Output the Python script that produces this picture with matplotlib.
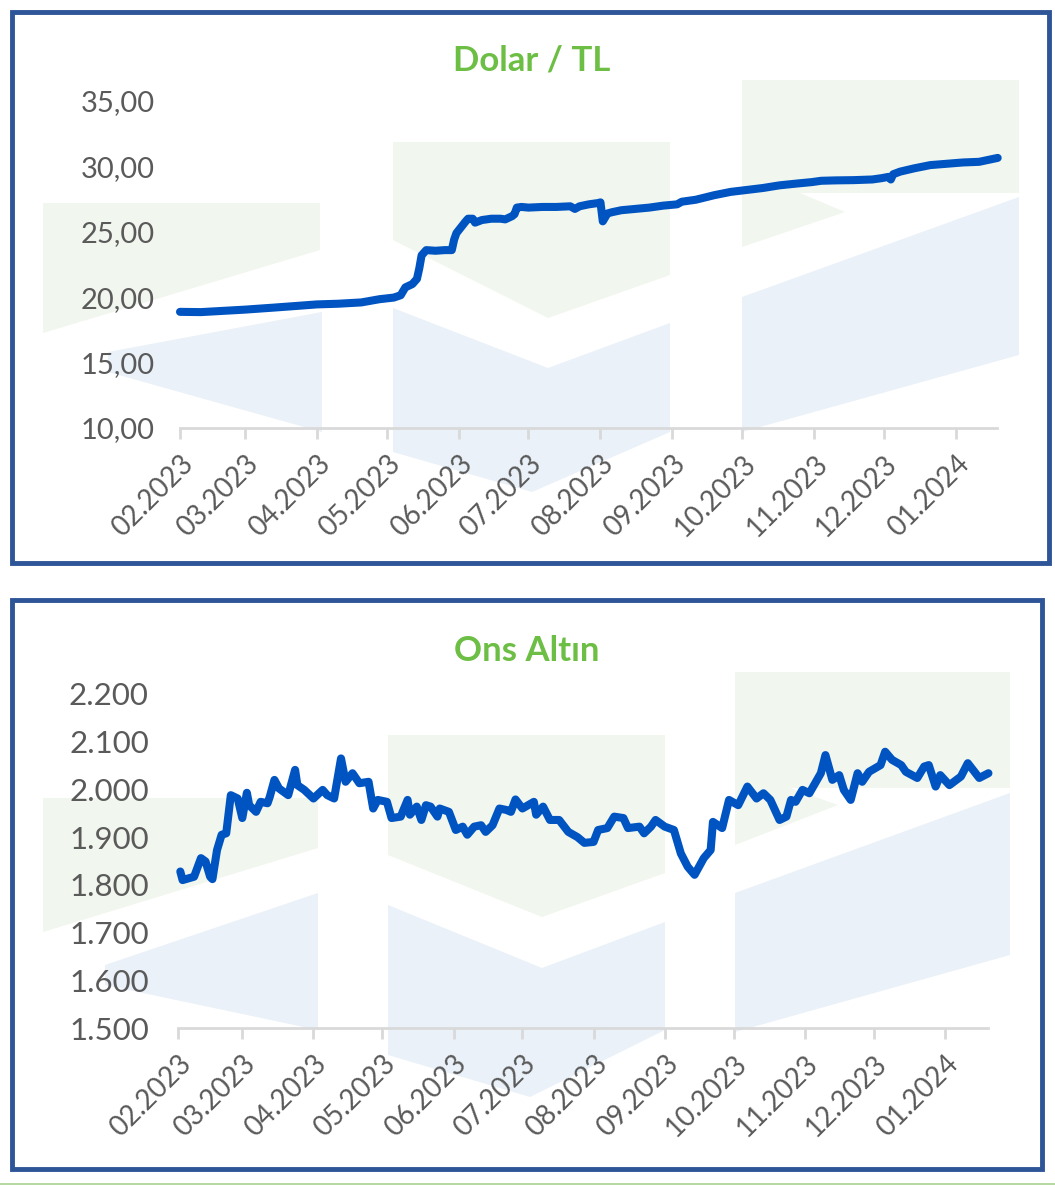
import numpy as np
import matplotlib
matplotlib.use("Agg")
import matplotlib.pyplot as plt
import matplotlib.dates as mdates
from matplotlib.patches import Polygon, Rectangle
from matplotlib.lines import Line2D

# ---------------- data ----------------
start_date = "2023-02-01"
month_labels = ["02.2023", "03.2023", "04.2023", "05.2023", "06.2023", "07.2023",
                "08.2023", "09.2023", "10.2023", "11.2023", "12.2023", "01.2024"]

usd_days = [0, 9, 20, 28, 40, 50, 59, 68, 78, 86, 92, 95, 97, 100, 102, 103, 104, 106,
            110, 114, 117, 118, 119, 121, 123, 124, 126, 127, 130, 134, 138, 140, 143,
            144, 145, 147, 150, 156, 162, 168, 170, 172, 176, 180, 181, 182, 184, 186,
            190, 196, 202, 208, 214, 216, 222, 230, 237, 244, 251, 258, 265, 272, 276,
            282, 290, 298, 302, 305, 306, 307, 310, 316, 323, 330, 337, 344, 348, 352]
usd_values = [18.88, 18.86, 18.97, 19.05, 19.20, 19.33, 19.45, 19.50, 19.60, 19.85, 19.97,
              20.15, 20.75, 21.00, 21.40, 22.20, 23.20, 23.60, 23.55, 23.60, 23.60, 24.40,
              24.90, 25.35, 25.80, 26.00, 26.00, 25.70, 25.90, 26.00, 26.00, 25.95, 26.20,
              26.35, 26.85, 26.90, 26.85, 26.90, 26.90, 26.95, 26.75, 26.95, 27.10, 27.20,
              27.25, 25.80, 26.40, 26.50, 26.65, 26.75, 26.85, 27.00, 27.10, 27.30, 27.45,
              27.80, 28.05, 28.20, 28.35, 28.55, 28.68, 28.80, 28.90, 28.93, 28.95, 29.00,
              29.10, 29.20, 29.00, 29.40, 29.60, 29.85, 30.10, 30.20, 30.30, 30.35, 30.50,
              30.65]
usd_yticks = [10, 15, 20, 25, 30, 35]
usd_ylabels = ["10,00", "15,00", "20,00", "25,00", "30,00", "35,00"]

gold_days = [1, 2, 7, 10, 12, 14, 15, 17, 19, 21, 23, 26, 28, 30, 31, 34, 36, 39, 40, 42,
             44, 48, 51, 52, 55, 59, 63, 65, 68, 71, 73, 76, 79, 83, 85, 87, 91, 93, 97,
             100, 101, 104, 106, 108, 110, 113, 114, 118, 121, 124, 126, 129, 132, 134,
             137, 140, 143, 145, 147, 150, 155, 156, 159, 162, 166, 170, 174, 177, 181,
             183, 187, 190, 194, 196, 201, 203, 206, 208, 212, 216, 219, 222, 225, 229,
             232, 233, 237, 240, 244, 248, 252, 255, 258, 260, 262, 265, 267, 269, 272,
             275, 280, 282, 285, 288, 290, 293, 296, 298, 301, 306, 308, 311, 315, 317,
             322, 325, 327, 330, 332, 336, 341, 344, 349, 353]
gold_values = [1828, 1810, 1817, 1856, 1849, 1817, 1812, 1873, 1905, 1908, 1988, 1981,
               1940, 1993, 1967, 1953, 1974, 1971, 1985, 2020, 2002, 1988, 2041, 2009,
               1999, 1981, 1999, 1988, 1981, 2065, 2016, 2034, 2013, 2016, 1960, 1978,
               1974, 1940, 1943, 1978, 1947, 1964, 1936, 1967, 1964, 1943, 1960, 1953,
               1915, 1922, 1905, 1922, 1925, 1911, 1925, 1960, 1957, 1953, 1979, 1960,
               1974, 1947, 1964, 1936, 1936, 1911, 1900, 1888, 1890, 1915, 1919, 1943,
               1940, 1919, 1922, 1908, 1922, 1936, 1922, 1915, 1866, 1838, 1821, 1856,
               1873, 1932, 1919, 1978, 1967, 2006, 1981, 1992, 1978, 1957, 1936, 1943,
               1978, 1974, 1999, 1992, 2034, 2072, 2020, 2030, 1999, 1978, 2034, 2016,
               2037, 2051, 2079, 2062, 2051, 2037, 2024, 2048, 2051, 2006, 2030, 2009,
               2027, 2055, 2024, 2034]
gold_yticks = [1500, 1600, 1700, 1800, 1900, 2000, 2100, 2200]
gold_ylabels = ["1.500", "1.600", "1.700", "1.800", "1.900", "2.000", "2.100", "2.200"]

# ---------------- style ----------------
W, H = 1055, 1186
LINE = "#0054C2"
TXT = "#5A5A5A"
GREEN_T = "#6DBE45"
FRAME = "#2E5597"
WM_G = "#F1F6EE"
WM_B = "#EAF1F8"
FONT = ["Lato", "DejaVu Sans"]
plt.rcParams["font.family"] = FONT

fig = plt.figure(figsize=(W / 100, H / 100), dpi=100)
fig.patch.set_facecolor("white")


def P(pts):
    return [(x / W, 1 - y / H) for x, y in pts]


def wm(pts, color):
    fig.add_artist(Polygon(P(pts), closed=True, facecolor=color, edgecolor="none",
                           transform=fig.transFigure, zorder=0))


# decorative watermark (top panel)
wm([(43, 203), (320, 203), (320, 250), (43, 333)], WM_G)
wm([(108, 352), (322, 312), (322, 432), (108, 372)], WM_B)
wm([(393, 142), (670, 142), (670, 275), (548, 318), (393, 240)], WM_G)
wm([(393, 308), (548, 368), (670, 323), (670, 432), (532, 492), (393, 452)], WM_B)
wm([(742, 80), (1019, 80), (1019, 193), (800, 193), (845, 212), (742, 247)], WM_G)
wm([(742, 297), (1019, 197), (1019, 355), (742, 432)], WM_B)
# decorative watermark (bottom panel)
wm([(43, 798), (318, 798), (318, 848), (43, 932)], WM_G)
wm([(105, 965), (318, 893), (318, 1030), (105, 985)], WM_B)
wm([(388, 735), (665, 735), (665, 873), (542, 917), (388, 855)], WM_G)
wm([(388, 905), (542, 968), (665, 922), (665, 1030), (530, 1097), (388, 1055)], WM_B)
wm([(735, 672), (1010, 672), (1010, 788), (790, 788), (838, 805), (735, 845)], WM_G)
wm([(735, 893), (1010, 793), (1010, 955), (735, 1032)], WM_B)

# frames
fig.add_artist(Rectangle((12 / W, 1 - 563 / H), (1049 - 12) / W, (563 - 12) / H,
                         fill=False, ec=FRAME, lw=3.5, transform=fig.transFigure, zorder=5))
fig.add_artist(Rectangle((12 / W, 1 - 1169 / H), (1042 - 12) / W, (1169 - 600) / H,
                         fill=False, ec=FRAME, lw=3.5, transform=fig.transFigure, zorder=5))
fig.add_artist(Line2D([0, 1], [1 - 1184 / H, 1 - 1184 / H], color="#A9D18E", lw=1.2,
                      transform=fig.transFigure))

t0 = np.datetime64(start_date)
month_ticks = t0.astype("datetime64[M]") + np.arange(len(month_labels))
month_ticks = month_ticks.astype("datetime64[D]")


def panel(rect, days, values, yticks, ylabels, right_day, title, title_xy, ypad, ysize):
    ax = fig.add_axes(rect)
    ax.patch.set_alpha(0)
    x = t0 + np.array(days).astype("timedelta64[D]")
    ax.plot(x, values, color=LINE, lw=5.8, solid_capstyle="round",
            solid_joinstyle="round", clip_on=False, zorder=3)
    ax.set_xlim(mdates.date2num(t0), mdates.date2num(t0) + right_day)
    ax.set_ylim(yticks[0], yticks[-1])
    ax.set_yticks(yticks)
    ax.set_yticklabels(ylabels)
    ax.set_xticks(month_ticks)
    ax.set_xticklabels(month_labels, rotation=45, ha="right", va="top",
                       rotation_mode="anchor")
    for s in ["left", "right", "top"]:
        ax.spines[s].set_visible(False)
    ax.spines["bottom"].set_color("#D9D9D9")
    ax.spines["bottom"].set_linewidth(2)
    ax.tick_params(axis="x", length=8, width=2, color="#D9D9D9", labelsize=20,
                   labelcolor=TXT, pad=8)
    ax.tick_params(axis="y", length=0, labelsize=ysize, labelcolor=TXT, pad=ypad)
    fig.text(title_xy[0] / W, 1 - title_xy[1] / H, title, ha="center", va="center",
             fontsize=25, fontweight="bold", color=GREEN_T)
    return ax


panel([180 / W, 1 - 428 / H, 817 / W, 327 / H], usd_days, usd_values, usd_yticks,
      usd_ylabels, 351.7, "Dolar / TL", (532, 60), 18, 21)
panel([178 / W, 1 - 1028 / H, 810 / W, 334 / H], gold_days, gold_values, gold_yticks,
      gold_ylabels, 352.8, "Ons Altın", (527, 651), 21, 22.5)

fig.savefig("out.png", dpi=100, facecolor="white")
